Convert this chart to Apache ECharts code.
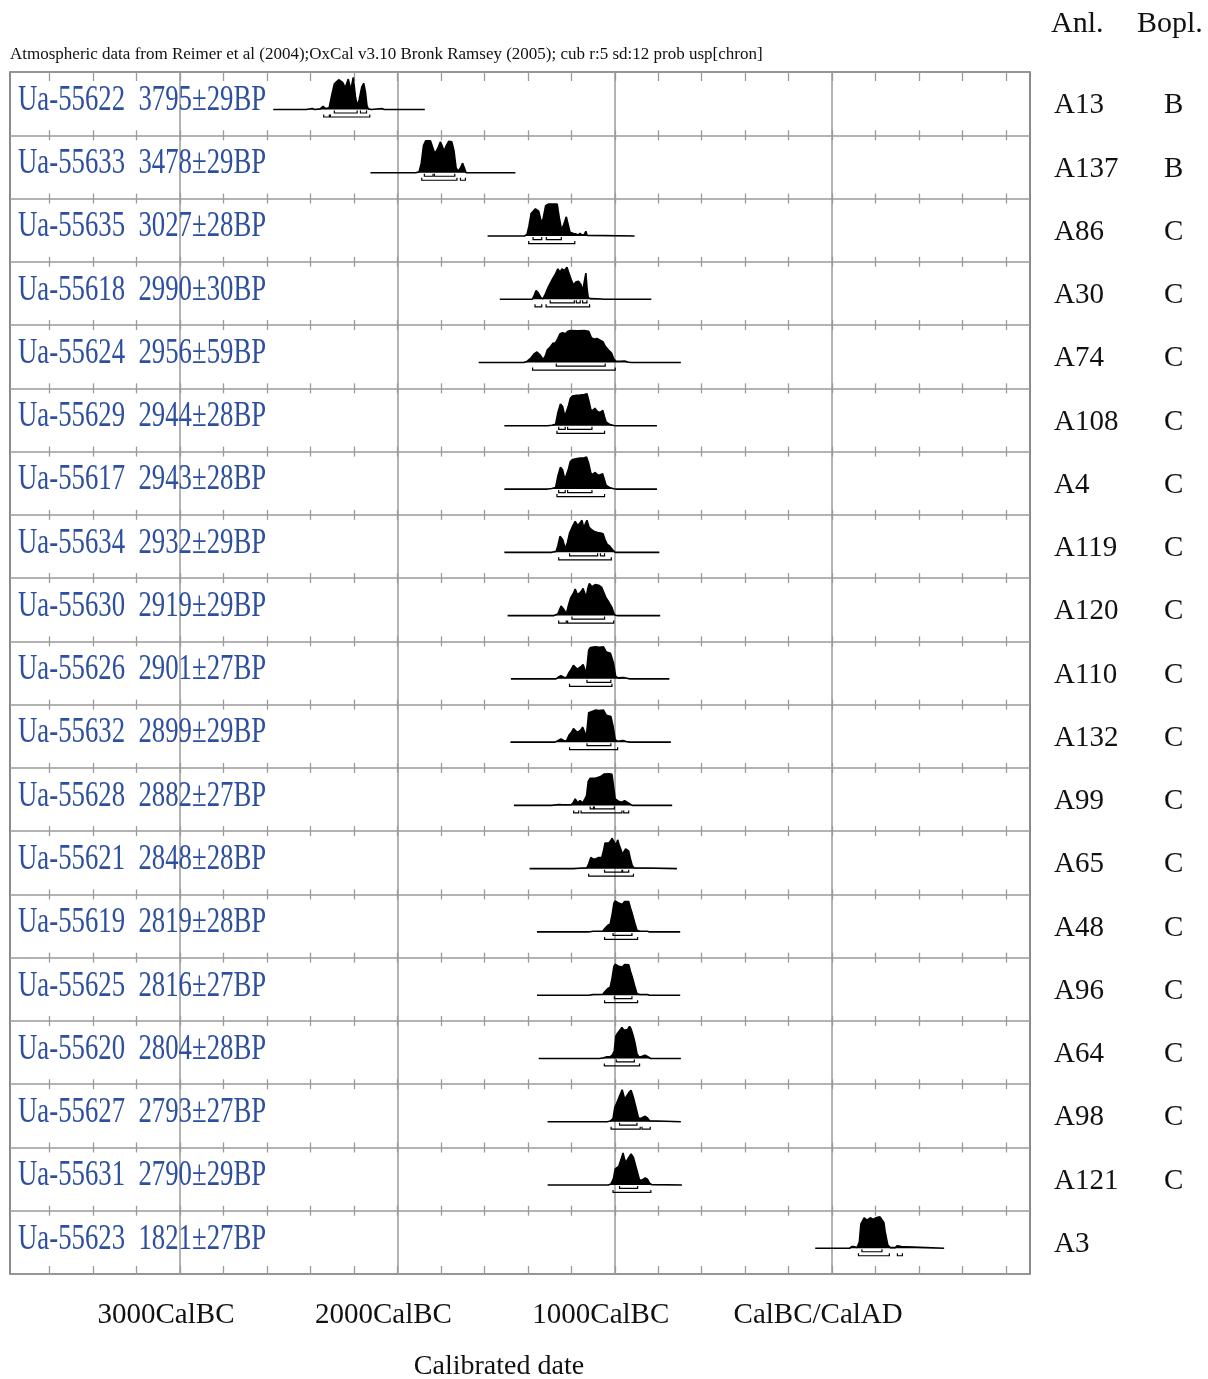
<!DOCTYPE html>
<html>
<head>
<meta charset="utf-8">
<title>Calibrated dates</title>
<script src="https://cdn.jsdelivr.net/npm/echarts@6.0.0/dist/echarts.min.js"></script>
<style>
  html, body { margin: 0; padding: 0; background: #fff; }
  #main { width: 1208px; height: 1379px; }
</style>
</head>
<body>
<div id="main"></div>
<script>
  // samples, top to bottom
  var labCodes = ['Ua-55622', 'Ua-55633', 'Ua-55635', 'Ua-55618', 'Ua-55624', 'Ua-55629', 'Ua-55617',
    'Ua-55634', 'Ua-55630', 'Ua-55626', 'Ua-55632', 'Ua-55628', 'Ua-55621', 'Ua-55619', 'Ua-55625',
    'Ua-55620', 'Ua-55627', 'Ua-55631', 'Ua-55623'];
  var bpAges = ['3795±29BP', '3478±29BP', '3027±28BP', '2990±30BP', '2956±59BP', '2944±28BP', '2943±28BP',
    '2932±29BP', '2919±29BP', '2901±27BP', '2899±29BP', '2882±27BP', '2848±28BP', '2819±28BP', '2816±27BP',
    '2804±28BP', '2793±27BP', '2790±29BP', '1821±27BP'];
  var anlCodes = ['A13', 'A137', 'A86', 'A30', 'A74', 'A108', 'A4', 'A119', 'A120', 'A110', 'A132', 'A99',
    'A65', 'A48', 'A96', 'A64', 'A98', 'A121', 'A3'];
  var boplCodes = ['B', 'B', 'C', 'C', 'C', 'C', 'C', 'C', 'C', 'C', 'C', 'C', 'C', 'C', 'C', 'C', 'C', 'C', ''];

  // calendar axis (BC negative)
  var axisMin = -3782;
  var axisMax = 910;
  var minorTicks = [-3600, -3400, -3200, -3000, -2800, -2600, -2400, -2200, -2000, -1800, -1600,
    -1400, -1200, -1000, -800, -600, -400, -200, 0, 200, 400, 600, 800];
  var majorTicks = [-3000, -2000, -1000, 0];
  var majorLabels = ['3000CalBC', '2000CalBC', '1000CalBC', 'CalBC/CalAD'];

  // probability curves [year, relative prob]
  var d55622 = [[-2571, 0], [-2440, 0], [-2432, 0.02], [-2420, 0], [-2392, 0.03], [-2380, 0], [-2355, 0.02],
    [-2342, 0.1], [-2330, 0.03], [-2314, 0.05], [-2302, 0.45], [-2290, 0.8], [-2270, 0.93], [-2252, 0.85],
    [-2240, 0.68], [-2226, 0.95], [-2214, 0.62], [-2203, 1.0], [-2193, 0.4], [-2185, 0.12], [-2176, 0.3],
    [-2164, 0.7], [-2155, 0.82], [-2147, 0.55], [-2140, 0.12], [-2134, 0.02], [-2120, 0], [-2072, 0.03],
    [-2060, 0], [-1874, 0]];
  var d55633 = [[-2124, 0], [-1915, 0], [-1900, 0.03], [-1890, 0.3], [-1880, 0.85], [-1870, 1.0], [-1848, 1.0],
    [-1838, 0.8], [-1828, 0.6], [-1815, 0.75], [-1802, 0.97], [-1792, 0.8], [-1785, 0.68], [-1775, 0.85],
    [-1764, 0.98], [-1750, 0.97], [-1740, 0.7], [-1730, 0.15], [-1720, 0.05], [-1710, 0.15], [-1700, 0.3],
    [-1692, 0.15], [-1684, 0], [-1457, 0]];
  var d55635 = [[-1585, 0], [-1415, 0], [-1404, 0.05], [-1395, 0.3], [-1385, 0.7], [-1365, 0.85], [-1350, 0.78],
    [-1342, 0.55], [-1335, 0.4], [-1328, 0.6], [-1318, 0.95], [-1304, 1.0], [-1265, 1.0], [-1256, 0.6],
    [-1245, 0.2], [-1235, 0.35], [-1223, 0.6], [-1214, 0.35], [-1206, 0.12], [-1190, 0.08], [-1180, 0.07],
    [-1170, 0.03], [-1160, 0.08], [-1150, 0.03], [-1140, 0.05], [-1133, 0.15], [-1127, 0.02], [-1120, 0],
    [-909, 0]];
  var d55618 = [[-1529, 0], [-1380, 0], [-1372, 0.1], [-1362, 0.27], [-1352, 0.2], [-1340, 0.05], [-1330, 0.02],
    [-1320, 0.15], [-1308, 0.35], [-1297, 0.5], [-1285, 0.65], [-1272, 0.8], [-1262, 0.95], [-1252, 0.85],
    [-1243, 0.95], [-1232, 0.9], [-1220, 1.0], [-1210, 0.8], [-1200, 0.6], [-1190, 0.45], [-1178, 0.55],
    [-1166, 0.56], [-1155, 0.45], [-1148, 0.25], [-1140, 0.55], [-1133, 0.82], [-1127, 0.3], [-1122, 0.05],
    [-1110, 0.02], [-1060, 0.01], [-1050, 0], [-832, 0]];
  var d55624 = [[-1626, 0], [-1420, 0], [-1405, 0.03], [-1385, 0.15], [-1370, 0.28], [-1358, 0.33], [-1345, 0.25],
    [-1330, 0.1], [-1320, 0.2], [-1310, 0.4], [-1295, 0.5], [-1285, 0.6], [-1272, 0.62], [-1262, 0.75],
    [-1252, 0.9], [-1240, 0.93], [-1228, 0.9], [-1215, 0.98], [-1205, 1.0], [-1170, 0.99], [-1140, 1.0],
    [-1120, 0.98], [-1108, 0.78], [-1095, 0.73], [-1082, 0.75], [-1068, 0.7], [-1055, 0.65], [-1043, 0.5],
    [-1030, 0.4], [-1015, 0.3], [-1005, 0.12], [-995, 0.05], [-975, 0.04], [-955, 0.05], [-940, 0.02],
    [-925, 0], [-696, 0]];
  var d55629 = [[-1508, 0], [-1310, 0], [-1290, 0.02], [-1272, 0.05], [-1262, 0.4], [-1250, 0.68], [-1240, 0.6],
    [-1230, 0.3], [-1222, 0.25], [-1214, 0.6], [-1205, 0.85], [-1195, 0.93], [-1175, 0.95], [-1160, 0.96],
    [-1140, 0.98], [-1128, 1.0], [-1120, 0.8], [-1110, 0.5], [-1100, 0.48], [-1092, 0.55], [-1080, 0.45],
    [-1068, 0.42], [-1055, 0.48], [-1048, 0.3], [-1040, 0.12], [-1025, 0.05], [-1005, 0.01], [-995, 0],
    [-806, 0]];
  var d55617 = [[-1508, 0], [-1310, 0], [-1290, 0.02], [-1272, 0.05], [-1262, 0.4], [-1250, 0.68], [-1240, 0.6],
    [-1230, 0.3], [-1222, 0.25], [-1214, 0.6], [-1205, 0.85], [-1195, 0.92], [-1178, 0.95], [-1160, 0.97],
    [-1142, 0.97], [-1130, 1.0], [-1120, 0.8], [-1110, 0.5], [-1100, 0.45], [-1092, 0.52], [-1080, 0.45],
    [-1068, 0.44], [-1056, 0.48], [-1048, 0.3], [-1040, 0.12], [-1025, 0.05], [-1005, 0.01], [-995, 0],
    [-806, 0]];
  var d55634 = [[-1508, 0], [-1290, 0], [-1270, 0.03], [-1262, 0.2], [-1252, 0.5], [-1240, 0.4], [-1228, 0.12],
    [-1218, 0.3], [-1208, 0.6], [-1195, 0.8], [-1182, 0.97], [-1172, 0.85], [-1162, 0.9], [-1151, 1.0],
    [-1142, 0.75], [-1135, 0.9], [-1128, 1.0], [-1118, 0.78], [-1108, 0.72], [-1094, 0.65], [-1079, 0.62],
    [-1065, 0.6], [-1054, 0.58], [-1045, 0.4], [-1035, 0.25], [-1024, 0.2], [-1010, 0.08], [-998, 0],
    [-795, 0]];
  var d55630 = [[-1493, 0], [-1280, 0], [-1262, 0.05], [-1247, 0.3], [-1235, 0.2], [-1223, 0.05], [-1212, 0.35],
    [-1203, 0.55], [-1190, 0.7], [-1182, 0.83], [-1172, 0.65], [-1166, 0.6], [-1155, 0.75], [-1146, 0.85],
    [-1138, 0.7], [-1132, 0.55], [-1124, 0.85], [-1117, 1.0], [-1105, 0.9], [-1090, 0.97], [-1074, 0.95],
    [-1060, 0.88], [-1051, 0.85], [-1040, 0.55], [-1030, 0.45], [-1013, 0.25], [-1005, 0.08], [-998, 0.01],
    [-985, 0], [-791, 0]];
  var d55626 = [[-1478, 0], [-1270, 0], [-1258, 0.06], [-1248, 0.1], [-1235, 0.05], [-1222, 0.04], [-1210, 0.2],
    [-1200, 0.3], [-1190, 0.42], [-1182, 0.47], [-1172, 0.3], [-1166, 0.25], [-1156, 0.38], [-1146, 0.45],
    [-1138, 0.3], [-1132, 0.12], [-1126, 0.5], [-1120, 0.9], [-1112, 0.98], [-1090, 1.0], [-1070, 0.99],
    [-1052, 1.0], [-1040, 0.85], [-1030, 0.82], [-1020, 0.8], [-1006, 0.5], [-996, 0.08], [-985, 0.03],
    [-960, 0.04], [-945, 0.02], [-930, 0], [-749, 0]];
  var d55632 = [[-1480, 0], [-1275, 0], [-1258, 0.06], [-1248, 0.1], [-1235, 0.05], [-1222, 0.04], [-1210, 0.22],
    [-1200, 0.3], [-1190, 0.42], [-1182, 0.48], [-1172, 0.3], [-1166, 0.25], [-1156, 0.38], [-1148, 0.47],
    [-1138, 0.3], [-1132, 0.12], [-1126, 0.5], [-1120, 0.92], [-1112, 0.98], [-1090, 1.0], [-1070, 0.99],
    [-1052, 1.0], [-1040, 0.85], [-1030, 0.82], [-1018, 0.8], [-1008, 0.5], [-998, 0.08], [-987, 0.03],
    [-962, 0.05], [-947, 0.02], [-930, 0], [-742, 0]];
  var d55628 = [[-1464, 0], [-1290, 0], [-1258, 0.03], [-1240, 0.02], [-1200, 0.02], [-1190, 0.1], [-1182, 0.2],
    [-1170, 0.08], [-1160, 0.15], [-1155, 0.2], [-1147, 0.08], [-1140, 0.05], [-1130, 0.3], [-1122, 0.75],
    [-1113, 0.85], [-1105, 0.82], [-1090, 0.85], [-1075, 0.88], [-1065, 0.9], [-1050, 0.98], [-1044, 1.0],
    [-1025, 0.99], [-1013, 0.97], [-1006, 0.6], [-998, 0.2], [-990, 0.2], [-980, 0.12], [-967, 0.1],
    [-955, 0.15], [-947, 0.2], [-938, 0.08], [-930, 0.02], [-920, 0], [-736, 0]];
  var d55621 = [[-1392, 0], [-1190, 0], [-1150, 0.02], [-1128, 0.03], [-1120, 0.15], [-1110, 0.35], [-1100, 0.3],
    [-1088, 0.3], [-1074, 0.35], [-1060, 0.35], [-1052, 0.55], [-1045, 0.8], [-1038, 0.85], [-1028, 0.8],
    [-1018, 0.88], [-1013, 0.95], [-1006, 1.0], [-1000, 0.8], [-995, 0.72], [-987, 0.9], [-980, 0.75],
    [-972, 0.6], [-965, 0.45], [-958, 0.5], [-950, 0.62], [-945, 0.66], [-936, 0.55], [-928, 0.3],
    [-920, 0.1], [-912, 0.03], [-905, 0], [-714, 0]];
  var d55619 = [[-1358, 0], [-1120, 0], [-1100, 0.02], [-1055, 0.03], [-1044, 0.12], [-1033, 0.2], [-1021, 0.25],
    [-1012, 0.55], [-1004, 0.9], [-998, 0.97], [-990, 1.0], [-982, 0.9], [-975, 0.85], [-965, 0.86],
    [-955, 0.95], [-947, 1.0], [-936, 0.95], [-928, 0.75], [-921, 0.6], [-909, 0.3], [-898, 0.05],
    [-885, 0.02], [-850, 0.02], [-840, 0], [-699, 0]];
  var d55625 = [[-1358, 0], [-1120, 0], [-1100, 0.02], [-1055, 0.03], [-1044, 0.12], [-1033, 0.2], [-1021, 0.25],
    [-1012, 0.55], [-1004, 0.9], [-998, 0.97], [-990, 1.0], [-982, 0.9], [-975, 0.86], [-965, 0.88],
    [-955, 0.96], [-947, 1.0], [-936, 0.95], [-928, 0.75], [-921, 0.6], [-909, 0.3], [-898, 0.05],
    [-885, 0.02], [-850, 0.02], [-840, 0], [-699, 0]];
  var d55620 = [[-1350, 0], [-1070, 0], [-1051, 0.02], [-1036, 0.05], [-1020, 0.06], [-1010, 0.12], [-1002, 0.25],
    [-995, 0.7], [-988, 0.78], [-980, 0.8], [-967, 0.97], [-958, 0.88], [-950, 0.85], [-942, 0.9],
    [-932, 1.0], [-925, 0.92], [-915, 0.7], [-906, 0.45], [-898, 0.15], [-890, 0.06], [-880, 0.05],
    [-870, 0.08], [-860, 0.1], [-850, 0.06], [-842, 0.02], [-835, 0], [-696, 0]];
  var d55627 = [[-1309, 0], [-1035, 0], [-1021, 0.02], [-1008, 0.1], [-1000, 0.45], [-993, 0.55], [-985, 0.58],
    [-978, 0.8], [-966, 1.0], [-958, 0.8], [-955, 0.7], [-947, 0.65], [-936, 0.9], [-925, 0.98],
    [-914, 0.75], [-901, 0.4], [-891, 0.12], [-880, 0.1], [-870, 0.14], [-860, 0.17], [-850, 0.12],
    [-840, 0.03], [-832, 0], [-696, 0]];
  var d55631 = [[-1309, 0], [-1030, 0], [-1018, 0.03], [-1006, 0.2], [-998, 0.5], [-990, 0.55], [-982, 0.58],
    [-971, 0.8], [-962, 1.0], [-955, 0.8], [-950, 0.7], [-941, 0.75], [-932, 0.9], [-925, 0.97],
    [-914, 0.85], [-898, 0.45], [-886, 0.15], [-875, 0.15], [-867, 0.18], [-860, 0.22], [-850, 0.18],
    [-840, 0.06], [-830, 0.01], [-825, 0], [-691, 0]];
  var d55623 = [[-78, 0], [80, 0], [90, 0.05], [95, 0.1], [102, 0.05], [115, 0.02], [125, 0.2], [132, 0.75],
    [147, 0.95], [160, 0.88], [175, 0.95], [190, 0.9], [200, 0.95], [208, 1.0], [220, 0.98], [229, 0.97],
    [238, 0.8], [244, 0.5], [256, 0.1], [267, 0.02], [290, 0.02], [300, 0.08], [309, 0.13], [318, 0.05],
    [325, 0], [515, 0]];

  // 68.2% and 95.4% ranges [from, to]
  var p68_55622 = [[-2290, -2185], [-2170, -2142]], p95_55622 = [[-2339, -2313], [-2308, -2127]];
  var p68_55633 = [[-1876, -1836], [-1830, -1736]], p95_55633 = [[-1888, -1726], [-1710, -1687]];
  var p68_55635 = [[-1376, -1336], [-1315, -1246]], p95_55635 = [[-1396, -1184]];
  var p68_55618 = [[-1297, -1186], [-1177, -1159], [-1148, -1128]], p95_55618 = [[-1367, -1336], [-1316, -1116]];
  var p68_55624 = [[-1269, -1044]], p95_55624 = [[-1378, -998]];
  var p68_55629 = [[-1258, -1228], [-1217, -1105]], p95_55629 = [[-1266, -1047]];
  var p68_55617 = [[-1258, -1228], [-1217, -1105]], p95_55617 = [[-1266, -1047]];
  var p68_55634 = [[-1208, -1079], [-1066, -1047]], p95_55634 = [[-1258, -1016]];
  var p68_55630 = [[-1197, -1047]], p95_55630 = [[-1258, -1223], [-1217, -1005]];
  var p68_55626 = [[-1128, -1018]], p95_55626 = [[-1208, -1013]];
  var p68_55632 = [[-1128, -1018]], p95_55632 = [[-1208, -987]];
  var p68_55628 = [[-1113, -1098], [-1094, -1002]], p95_55628 = [[-1189, -1166], [-1155, -967], [-959, -936]];
  var p68_55621 = [[-1047, -967], [-964, -936]], p95_55621 = [[-1120, -914]];
  var p68_55619 = [[-1008, -921]], p95_55619 = [[-1047, -895]];
  var p68_55625 = [[-1002, -921]], p95_55625 = [[-1047, -895]];
  var p68_55620 = [[-993, -910]], p95_55620 = [[-1048, -886]];
  var p68_55627 = [[-978, -898]], p95_55627 = [[-1017, -883], [-875, -837]];
  var p68_55631 = [[-978, -895]], p95_55631 = [[-1008, -834]];
  var p68_55623 = [[137, 229]], p95_55623 = [[121, 263], [300, 323]];

  var curves = [d55622, d55633, d55635, d55618, d55624, d55629, d55617, d55634, d55630, d55626, d55632,
    d55628, d55621, d55619, d55625, d55620, d55627, d55631, d55623];
  var ranges68 = [p68_55622, p68_55633, p68_55635, p68_55618, p68_55624, p68_55629, p68_55617, p68_55634,
    p68_55630, p68_55626, p68_55632, p68_55628, p68_55621, p68_55619, p68_55625, p68_55620, p68_55627,
    p68_55631, p68_55623];
  var ranges95 = [p95_55622, p95_55633, p95_55635, p95_55618, p95_55624, p95_55629, p95_55617, p95_55634,
    p95_55630, p95_55626, p95_55632, p95_55628, p95_55621, p95_55619, p95_55625, p95_55620, p95_55627,
    p95_55631, p95_55623];

  var serif = 'Liberation Serif';
  var gridColor = '#9a9a9a';
  var frameL = 10, frameT = 72, frameW = 1020, frameH = 1202;
  var nRows = labCodes.length;
  var rowH = frameH / nRows;
  var baseFromTop = 37.5;   // px from row top to the curve baseline
  var peakPx = 32;          // px height of prob 1

  var grids = [{
    left: frameL, top: frameT, width: frameW, height: frameH, outerBoundsMode: 'none',
    show: true, borderColor: '#666', borderWidth: 1.5, backgroundColor: 'transparent'
  }];
  var xAxes = [{
    gridIndex: 0, type: 'value', min: axisMin, max: axisMax,
    axisLine: {show: false, onZero: false},
    axisTick: {show: false, customValues: majorTicks},
    splitLine: {show: true, lineStyle: {color: gridColor, width: 1.5}},
    axisLabel: {
      customValues: majorTicks,
      formatter: function (v) {
        var k = majorTicks.indexOf(v);
        return k < 0 ? '' : majorLabels[k];
      },
      margin: 27, padding: [0, 28, 0, 0],
      fontFamily: serif, fontSize: 29, color: '#111'
    },
    name: 'Calibrated date', nameLocation: 'middle', nameGap: 79,
    nameTextStyle: {fontFamily: serif, fontSize: 28, color: '#111', padding: [0, 42, 0, 0]}
  }];
  var yAxes = [{
    gridIndex: 0, type: 'category', data: labCodes, inverse: true,
    axisLine: {show: false}, axisTick: {show: false},
    axisLabel: {show: false, interval: 0},
    splitLine: {show: true, interval: 0, lineStyle: {color: gridColor, width: 1.5}}
  }, {
    gridIndex: 0, type: 'category', data: anlCodes, inverse: true, position: 'right',
    axisLine: {show: false}, axisTick: {show: false}, splitLine: {show: false},
    axisLabel: {
      interval: 0, margin: 24,
      formatter: function (v, i) {
        return '{a|' + v + '}{b|' + boplCodes[i] + '}';
      },
      rich: {
        a: {width: 110, fontFamily: serif, fontSize: 29, color: '#111', padding: [4, 0, 0, 0]},
        b: {fontFamily: serif, fontSize: 29, color: '#111', padding: [4, 0, 0, 0]}
      }
    }
  }];
  var series = [];

  // one small grid per row, carrying the row's ticks, curve and ranges
  for (var i = 0; i < nRows; i++) {
    grids.push({left: frameL, top: frameT + i * rowH, width: frameW, height: rowH, show: false,
      outerBoundsMode: 'none'});
    xAxes.push({
      gridIndex: i + 1, type: 'value', min: axisMin, max: axisMax, position: 'bottom',
      axisLine: {show: false, onZero: false}, axisLabel: {show: false}, splitLine: {show: false},
      axisTick: {show: true, inside: true, length: i === nRows - 1 ? 8 : 5, customValues: minorTicks,
        lineStyle: {color: gridColor, width: 1.3}}
    });
    xAxes.push({
      gridIndex: i + 1, type: 'value', min: axisMin, max: axisMax, position: 'top',
      axisLine: {show: false, onZero: false}, axisLabel: {show: false}, splitLine: {show: false},
      axisTick: {show: true, inside: true, length: i === 0 ? 9 : 5, customValues: minorTicks,
        lineStyle: {color: gridColor, width: 1.3}}
    });
    yAxes.push({
      gridIndex: i + 1, type: 'value', show: false,
      min: -(rowH - baseFromTop) / peakPx, max: baseFromTop / peakPx
    });

    series.push({
      type: 'line', xAxisIndex: 2 * i + 1, yAxisIndex: i + 2,
      data: curves[i], symbol: 'none', silent: true, z: 3,
      lineStyle: {color: '#000', width: 1.6},
      areaStyle: {color: '#000', opacity: 1}
    });

    var br = [];
    ranges68[i].forEach(function (r) { br.push([r[0], r[1], 68]); });
    ranges95[i].forEach(function (r) { br.push([r[0], r[1], 95]); });
    series.push({
      type: 'custom', xAxisIndex: 2 * i + 1, yAxisIndex: i + 2, data: br, silent: true, z: 3,
      renderItem: function (params, api) {
        var a = api.coord([api.value(0), 0]);
        var b = api.coord([api.value(1), 0]);
        var y = a[1] + (api.value(2) === 68 ? 3.5 : 7.5);
        return {
          type: 'polyline',
          shape: {points: [[a[0], y - 2.5], [a[0], y], [b[0], y], [b[0], y - 2.5]]},
          style: {stroke: '#000', fill: null, lineWidth: 1.2}
        };
      }
    });
  }

  // blue sample labels, squeezed like the original typeface
  series.push({
    type: 'custom', xAxisIndex: 0, yAxisIndex: 0, silent: true, z: 4,
    data: labCodes.map(function (c, k) { return [axisMin, k]; }),
    renderItem: function (params, api) {
      var p = api.coord([api.value(0), api.value(1)]);
      var k = params.dataIndex;
      return {
        type: 'text', x: p[0] + 8, y: p[1] - 3, scaleX: 0.765,
        style: {
          text: labCodes[k] + '  ' + bpAges[k],
          fontFamily: serif, fontSize: 35, fill: '#2d4f9f',
          align: 'left', verticalAlign: 'middle'
        }
      };
    }
  });

  var option = {
    animation: false,
    backgroundColor: '#fff',
    title: [{
      text: 'Atmospheric data from Reimer et al (2004);OxCal v3.10 Bronk Ramsey (2005); cub r:5 sd:12 prob usp[chron]',
      left: 10, top: 46, padding: 0,
      textStyle: {fontFamily: serif, fontSize: 17, fontWeight: 'normal', color: '#111'}
    }, {
      text: 'Anl.', left: 1051, top: 9, padding: 0,
      textStyle: {fontFamily: serif, fontSize: 30, fontWeight: 'normal', color: '#111'}
    }, {
      text: 'Bopl.', left: 1137, top: 9, padding: 0,
      textStyle: {fontFamily: serif, fontSize: 30, fontWeight: 'normal', color: '#111'}
    }],
    grid: grids,
    xAxis: xAxes,
    yAxis: yAxes,
    series: series
  };

  var myChart = echarts.init(document.getElementById('main'));
  myChart.setOption(option);
</script>
</body>
</html>
